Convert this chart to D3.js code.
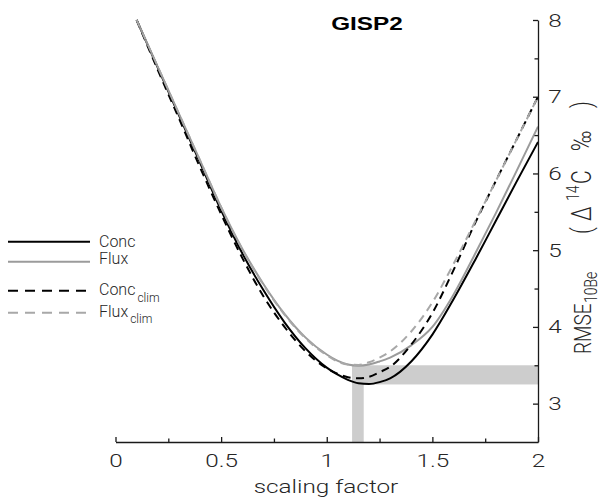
<!DOCTYPE html>
<html>
<head>
<meta charset="utf-8">
<script src="https://cdn.jsdelivr.net/npm/d3@7"></script>
<style>
  body { margin: 0; background: #fff; }
  text { font-family: Roboto, "Liberation Sans", Arial, sans-serif; font-weight: 300; fill: #262626; }
  text.title { font-family: "Liberation Sans", Arial, sans-serif; font-weight: bold; fill: #000; }
</style>
</head>
<body>
<svg id="chart" width="604" height="501"></svg>
<script>
// Scaling factor grid and RMSE of each reconstruction (per mil)
const scaleFactor = [0.1, 0.2, 0.3, 0.4, 0.5, 0.6, 0.7, 0.8, 0.9, 1.0, 1.05, 1.1, 1.15, 1.2, 1.25, 1.3, 1.4, 1.5, 1.6, 1.7, 1.8, 1.9, 2.0];
const conc     = [8.00, 7.38, 6.76, 6.14, 5.52, 4.96, 4.48, 4.06, 3.72, 3.47, 3.38, 3.31, 3.265, 3.255, 3.28, 3.33, 3.55, 3.90, 4.36, 4.86, 5.38, 5.90, 6.41];
const flux     = [8.00, 7.39, 6.78, 6.17, 5.56, 5.02, 4.56, 4.17, 3.86, 3.64, 3.56, 3.51, 3.495, 3.51, 3.55, 3.60, 3.76, 4.00, 4.42, 4.94, 5.48, 6.04, 6.61];
const concClim = [8.00, 7.35, 6.72, 6.08, 5.47, 4.90, 4.40, 4.00, 3.68, 3.46, 3.39, 3.345, 3.33, 3.35, 3.41, 3.48, 3.77, 4.18, 4.74, 5.34, 5.90, 6.45, 7.00];
const fluxClim = [8.00, 7.39, 6.78, 6.17, 5.56, 5.01, 4.55, 4.16, 3.85, 3.63, 3.55, 3.51, 3.505, 3.54, 3.60, 3.68, 3.94, 4.32, 4.82, 5.36, 5.90, 6.45, 7.00];

// Range of optimal scaling factors and minimum RMSE values
const bandX = [1.12, 1.175];
const bandY = [3.25, 3.5];

// Axis ticks
const xTicks = [0, 0.5, 1, 1.5, 2];
const xMinorTicks = [0.25, 0.75, 1.25, 1.75];
const yTicks = [3, 4, 5, 6, 7, 8];
const yMinorTicks = [3.5, 4.5, 5.5, 6.5, 7.5];

// Legend
const legendNames = ["Conc", "Flux", "Conc", "Flux"];
const legendSubs = ["", "", "clim", "clim"];

const svg = d3.select("#chart");
const x = d3.scaleLinear().domain([0, 2]).range([115.5, 538]);
const y = d3.scaleLinear().domain([2.5, 8]).range([442, 20]);
const stretch = 1.28;

const seriesStyle = [
  { values: conc,     color: "#000000", dash: null },
  { values: flux,     color: "#9b9b9b", dash: null },
  { values: concClim, color: "#000000", dash: "8,5.5" },
  { values: fluxClim, color: "#a8a8a8", dash: "8,5.5" }
];

// Shaded optimum region
svg.append("rect")
  .attr("x", x(bandX[0])).attr("y", y(bandY[1]))
  .attr("width", x(2) - x(bandX[0])).attr("height", y(bandY[0]) - y(bandY[1]))
  .attr("fill", "#cdcdcd");
svg.append("rect")
  .attr("x", x(bandX[0])).attr("y", y(bandY[1]))
  .attr("width", x(bandX[1]) - x(bandX[0])).attr("height", y(2.5) - y(bandY[1]))
  .attr("fill", "#cdcdcd");

// Curves
const line = d3.line().curve(d3.curveMonotoneX);
seriesStyle.forEach(s => {
  svg.append("path")
    .attr("d", line(scaleFactor.map((f, i) => [x(f), y(s.values[i])])))
    .attr("fill", "none")
    .attr("stroke", s.color)
    .attr("stroke-width", 2)
    .attr("stroke-dasharray", s.dash);
});

// X axis
const gx = svg.append("g").attr("transform", `translate(0,${y(2.5)})`)
  .call(d3.axisBottom(x).tickValues(xTicks).tickSize(-5).tickSizeOuter(0).tickPadding(12).tickFormat(d3.format("~g")));
gx.append("g").call(d3.axisBottom(x).tickValues(xMinorTicks).tickSize(-3.5).tickFormat(""))
  .select(".domain").remove();

// Y axis on the right
const gy = svg.append("g").attr("transform", `translate(${x(2)},0)`)
  .call(d3.axisRight(y).tickValues(yTicks).tickSize(-5).tickSizeOuter(0).tickPadding(8).tickFormat(d3.format("~g")));
gy.append("g").call(d3.axisRight(y).tickValues(yMinorTicks).tickSize(-3.5).tickFormat(""))
  .select(".domain").remove();

[gx, gy].forEach(g => {
  g.selectAll(".domain, line").attr("stroke", "#1a1a1a").attr("stroke-width", 1.3);
  g.selectAll("text").attr("font-size", 19).attr("font-family", null)
    .attr("transform", `scale(${stretch},1)`);
});

// Title
svg.append("text").attr("class", "title")
  .attr("transform", `translate(367,30) scale(${stretch},1)`)
  .attr("text-anchor", "middle")
  .attr("font-size", 19)
  .text("GISP2");

// X axis label
svg.append("text")
  .attr("transform", `translate(326,493) scale(${stretch},1)`)
  .attr("text-anchor", "middle")
  .attr("font-size", 19)
  .text("scaling factor");

// Y axis label, pieces laid out along the rotated baseline
const yl = svg.append("text")
  .attr("transform", `translate(591,354) rotate(-90) scale(1,${stretch})`);
const ylPieces = [
  { t: "RMSE",   at: 0,   size: 19, dy: 0 },
  { t: "10Be",   at: 51,  size: 14, dy: 5 },
  { t: "(",      at: 120, size: 21, dy: 0 },
  { t: "\u0394", at: 133, size: 21, dy: 0 },
  { t: "14",     at: 153, size: 14, dy: -9 },
  { t: "C",      at: 170, size: 21, dy: 0 },
  { t: "\u2030", at: 203, size: 21, dy: 0 },
  { t: ")",      at: 246, size: 21, dy: 0 }
];
ylPieces.forEach(p => {
  yl.append("tspan").attr("x", p.at).attr("y", p.dy).attr("font-size", p.size).text(p.t);
});

// Legend
const legendLineY = [241.7, 261.7, 290.7, 312.7];
const legendTextY = [246.5, 264, 295, 316.5];
seriesStyle.forEach((s, i) => {
  svg.append("line")
    .attr("x1", 8).attr("x2", 90)
    .attr("y1", legendLineY[i]).attr("y2", legendLineY[i])
    .attr("stroke", s.color).attr("stroke-width", 2)
    .attr("stroke-dasharray", s.dash ? "10,7" : null);
  const t = svg.append("text").attr("x", 99).attr("y", legendTextY[i]).attr("font-size", 16);
  t.append("tspan").text(legendNames[i]);
  if (legendSubs[i]) t.append("tspan").attr("font-size", 12).attr("dy", 6.5).attr("dx", 2).text(legendSubs[i]);
});
</script>
</body>
</html>
